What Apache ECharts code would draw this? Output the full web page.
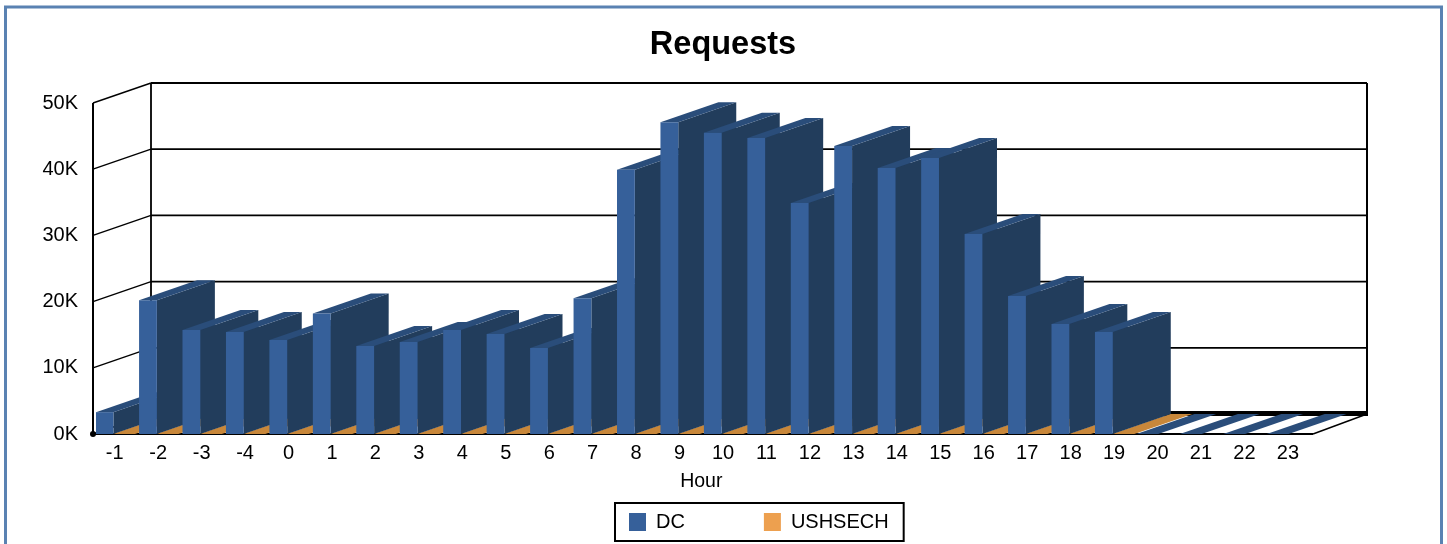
<!DOCTYPE html>
<html>
<head>
<meta charset="utf-8">
<style>html,body{margin:0;padding:0;background:#fff}#c{width:1447px;height:544px}</style>
<script src="https://cdn.jsdelivr.net/npm/echarts@6/dist/echarts.min.js"></script>
</head>
<body>
<div id="c"></div>
<script>
const hours = ['-1','-2','-3','-4','0','1','2','3','4','5','6','7','8','9','10','11','12','13','14','15','16','17','18','19','20','21','22','23'];
const dcValues = [3300,20200,15700,15400,14200,18200,13300,13900,15700,15100,13000,20500,39900,47100,45500,44700,34900,43500,40200,41700,30200,20850,16600,15400,0,0,0,0];
const ushsechValues = [0,0,0,0,0,0,0,0,0,0,0,0,0,0,0,0,0,0,0,0,0,0,0,0,null,null,null,null];
const yTicks = [0,10000,20000,30000,40000,50000];

const FONT = '"Liberation Sans", Arial, sans-serif';
const DEPTH_X = 58, DEPTH_Y = -20;
const FLOOR_EXT = 3.4, BACK_RIGHT_DX = 54, FLAT_PAD = 2;
const DC_COLORS = {front:'#36609a', side:'#223d5c', top:'#2a4d7a'};
const USH_COLORS = {front:'#eda04f', side:'#a86f30', top:'#c8873a'};

function poly(points, fill, z2) {
  return {type:'polygon', z2:z2||0, shape:{points:points}, style:{fill:fill, stroke:null}};
}
function barRenderer(colors, startFrac, endFrac) {
  return function (params, api) {
    const v = api.value(1);
    if (v === null || isNaN(v)) return null;
    const idx = api.value(0);
    const band = api.size([1,0])[0];
    const top = api.coord([idx, v]);
    const base = api.coord([idx, 0]);
    const cs = params.coordSys;
    const x0 = Math.max(top[0] + startFrac*band, cs.x + 3), x1 = top[0] + endFrac*band;
    const yT = top[1], yB = base[1];
    const dx = DEPTH_X, dy = DEPTH_Y;
    const kids = [];
    if (yB - yT > 0.5) {
      kids.push(poly([[x1,yT],[x1+dx,yT+dy],[x1+dx,yB+dy],[x1,yB]], colors.side));
      kids.push(poly([[x0,yT],[x0+dx,yT+dy],[x1+dx,yT+dy],[x1,yT]], colors.top));
      kids.push({type:'rect', shape:{x:x0,y:yT,width:x1-x0,height:yB-yT}, style:{fill:colors.front}});
    } else {
      const a = x0 - FLAT_PAD, b = x1 + FLAT_PAD;
      kids.push(poly([[a,yB],[a+dx,yB+dy],[b+dx,yB+dy],[b,yB]], colors.top));
    }
    return {type:'group', children:kids};
  };
}
function wallRenderer(params, api) {
  const v = api.value(0);
  const cs = params.coordSys;
  const y = api.coord([0, v])[1];
  const L = cs.x, R = cs.x + cs.width + FLOOR_EXT;
  const BR = R + BACK_RIGHT_DX;
  const dx = DEPTH_X, dy = DEPTH_Y;
  const line = (a,b,c,d,w) => ({type:'line', shape:{x1:a,y1:b,x2:c,y2:d}, style:{stroke:'#000', lineWidth:w}});
  const kids = [
    line(L, y, L+dx, y+dy, 1.4),
    line(L+dx, y+dy-(v===0?0.5:0), BR, y+dy-(v===0?0.5:0), v === 0 ? 5 : 1.8)
  ];
  if (v === 0) {
    kids.push(line(cs.x+cs.width-1, y, R, y, 2));
    kids.push(line(R, y, BR, y+dy, 1.4));
    kids.push(line(L, y, L, cs.y, 2));
    kids.push(line(L+dx, y+dy, L+dx, cs.y+dy, 1.8));
    kids.push(line(BR, y+dy+2, BR, cs.y+dy, 2));
    kids.push({type:'circle', z2:5, shape:{cx:L,cy:y,r:3}, style:{fill:'#000'}});
  }
  return {type:'group', children:kids};
}

const chart = echarts.init(document.getElementById('c'), null, {renderer:'canvas'});
chart.setOption({
  animation:false,
  backgroundColor:'#fff',
  title:{text:'Requests', left:718, top:24, textAlign:'center',
    textStyle:{fontFamily:FONT, fontSize:32.5, fontWeight:'bold', color:'#000'}},
  legend:{
    data:['DC','USHSECH'], left:615, top:503, orient:'horizontal',
    padding:[9,15,9,14], itemWidth:17, itemHeight:18, itemGap:79,
    borderColor:'#000', borderWidth:2, backgroundColor:'#fff',
    icon:'rect', textStyle:{fontFamily:FONT, fontSize:20, color:'#000', padding:[0,0,0,5]}
  },
  grid:{left:93, right:137.4, top:103, bottom:110, containLabel:false},
  xAxis:{
    type:'category', data:hours, boundaryGap:true,
    name:'Hour', nameLocation:'middle', nameGap:38,
    nameTextStyle:{fontFamily:FONT, fontSize:19.5, color:'#000'},
    axisLine:{show:true, lineStyle:{color:'#000', width:2}},
    axisTick:{show:false},
    axisLabel:{interval:0, margin:9, fontFamily:FONT, fontSize:20, color:'#000'},
    splitLine:{show:false}
  },
  yAxis:{
    type:'value', min:0, max:50000, interval:10000,
    axisLine:{show:false}, axisTick:{show:false}, splitLine:{show:false},
    axisLabel:{margin:15, fontFamily:FONT, fontSize:20, color:'#000',
      formatter:v => (v/1000)+'K'}
  },
  graphic:[{type:'rect', silent:true, z:-1, shape:{x:5.5,y:7,width:1436,height:560},
    style:{fill:'#fff', stroke:'#5a82b2', lineWidth:3}}],
  series:[
    {name:'wall', type:'custom', coordinateSystem:'cartesian2d', silent:true, z:1,
      renderItem:wallRenderer, data:yTicks.map(v=>[v]), encode:{y:0}, clip:false},
    {name:'USHSECH', type:'custom', coordinateSystem:'cartesian2d', z:2,
      renderItem:barRenderer(USH_COLORS, 0, 0.42),
      itemStyle:{color:USH_COLORS.front},
      data:ushsechValues.map((v,i)=>[i,v]), encode:{x:0,y:1}, clip:false},
    {name:'DC', type:'custom', coordinateSystem:'cartesian2d', z:3,
      renderItem:barRenderer(DC_COLORS, -0.44, -0.03),
      itemStyle:{color:DC_COLORS.front},
      data:dcValues.map((v,i)=>[i,v]), encode:{x:0,y:1}, clip:false}
  ]
});
</script>
</body>
</html>
